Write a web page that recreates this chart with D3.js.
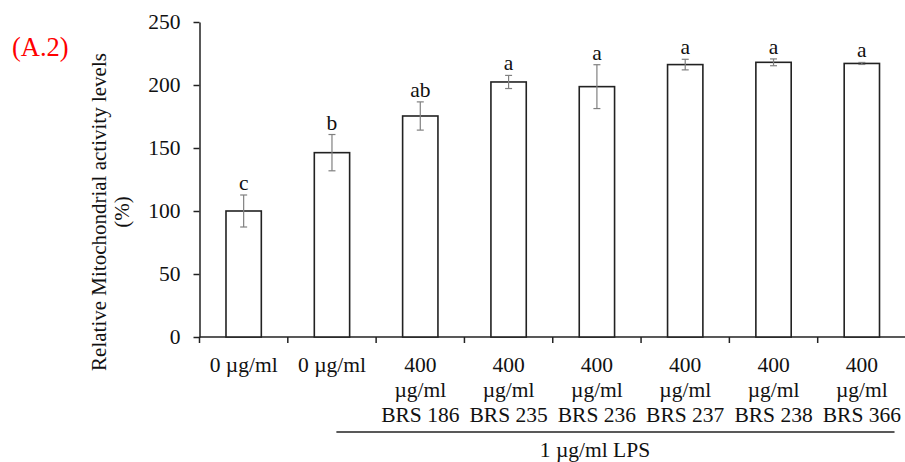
<!DOCTYPE html>
<html><head><meta charset="utf-8">
<script src="https://cdn.jsdelivr.net/npm/d3@7"></script>
<style>body{margin:0;background:#fff}svg{display:block}</style>
</head><body>
<script>
const categories = ["c0","c1","c2","c3","c4","c5","c6","c7"];
const labelLines = [["0 µg/ml"],["0 µg/ml"],["400","µg/ml","BRS 186"],["400","µg/ml","BRS 235"],["400","µg/ml","BRS 236"],["400","µg/ml","BRS 237"],["400","µg/ml","BRS 238"],["400","µg/ml","BRS 366"]];
const values = [100, 146.3, 175.4, 202.4, 198.7, 216.2, 218.0, 217.1];
const errors = [12.7, 14.4, 11.2, 5.2, 17.4, 4.2, 2.7, 0.8];
const letters = ["c","b","ab","a","a","a","a","a"];
const yTicks = [0,50,100,150,200,250];
const groupLabel = "1 µg/ml LPS";
const panelLabel = "(A.2)";
const yTitle = ["Relative Mitochondrial activity levels","(%)"];

const W=905,H=462;
const svg=d3.select("body").append("svg").attr("width",W).attr("height",H)
  .style("font-family","'Liberation Serif','Times New Roman',serif");
const x=d3.scaleBand().domain(categories).range([199.5,906]).padding(0);
const y=d3.scaleLinear().domain([0,250]).range([337,22]);
const bw=x.bandwidth()*0.4;
const dark="#222";

// y axis
const ya=svg.append("g").attr("transform","translate(199.5,0)")
  .call(d3.axisLeft(y).tickValues(yTicks).tickSize(6).tickPadding(13).tickSizeOuter(0));
ya.select(".domain").attr("stroke",dark).attr("stroke-width",1.5);
ya.selectAll(".tick line").attr("stroke",dark).attr("stroke-width",1.5);
ya.selectAll(".tick text").attr("font-size",21.5).attr("fill","#111").style("font-family","'Liberation Serif',serif");

// x axis line and ticks
svg.append("line").attr("x1",199.5).attr("x2",906).attr("y1",y(0)).attr("y2",y(0)).attr("stroke",dark).attr("stroke-width",1.5);
svg.selectAll(".xt").data(categories).enter().append("line")
  .attr("x1",d=>x(d)).attr("x2",d=>x(d)).attr("y1",y(0)).attr("y2",y(0)+6)
  .attr("stroke",dark).attr("stroke-width",1.5);

// bars
svg.selectAll(".bar").data(categories).enter().append("rect")
  .attr("x",d=>x(d)+x.bandwidth()/2-bw/2).attr("width",bw)
  .attr("y",(d,i)=>y(values[i])).attr("height",(d,i)=>y(0)-y(values[i]))
  .attr("fill","#fff").attr("stroke",dark).attr("stroke-width",1.6);

// error bars
const eg=svg.selectAll(".err").data(categories).enter().append("g").attr("stroke","#808080").attr("stroke-width",1.2);
eg.append("line").attr("x1",d=>x(d)+x.bandwidth()/2).attr("x2",d=>x(d)+x.bandwidth()/2)
  .attr("y1",(d,i)=>y(values[i]+errors[i])).attr("y2",(d,i)=>y(values[i]-errors[i]));
[1,-1].forEach(s=>{
  eg.append("line").attr("x1",d=>x(d)+x.bandwidth()/2-3.5).attr("x2",d=>x(d)+x.bandwidth()/2+3.5)
    .attr("y1",(d,i)=>y(values[i]+s*errors[i])).attr("y2",(d,i)=>y(values[i]+s*errors[i]));
});

// letters
svg.selectAll(".let").data(categories).enter().append("text")
  .attr("x",d=>x(d)+x.bandwidth()/2).attr("y",(d,i)=>y(values[i]+errors[i])-5)
  .attr("text-anchor","middle").attr("font-size",21.5).attr("fill","#111").text((d,i)=>letters[i]);

// x labels
categories.forEach((c,i)=>{
  labelLines[i].forEach((t,j)=>{
    svg.append("text").attr("x",x(c)+x.bandwidth()/2).attr("y",372+25*j)
      .attr("text-anchor","middle").attr("font-size",21.5).attr("fill","#111").text(t);
  });
});

// group line
svg.append("line").attr("x1",x(categories[1])+x.bandwidth()*0.55).attr("x2",x(categories[7])+x.bandwidth()*0.87)
  .attr("y1",432).attr("y2",432).attr("stroke",dark).attr("stroke-width",1.5);
svg.append("text").attr("x",595).attr("y",457).attr("text-anchor","middle")
  .attr("font-size",21.5).attr("fill","#111").text(groupLabel);

// y title
const yt=svg.append("g").attr("transform","translate(0,212)");
yt.append("text").attr("transform","translate(106,0) rotate(-90)").attr("text-anchor","middle")
  .attr("font-size",21).attr("fill","#111").text(yTitle[0]);
yt.append("text").attr("transform","translate(129,0) rotate(-90)").attr("text-anchor","middle")
  .attr("font-size",21).attr("fill","#111").text(yTitle[1]);

// panel label
svg.append("text").attr("x",12).attr("y",56).attr("font-size",26.5).attr("fill","#f00").text(panelLabel);
</script>
</body></html>
